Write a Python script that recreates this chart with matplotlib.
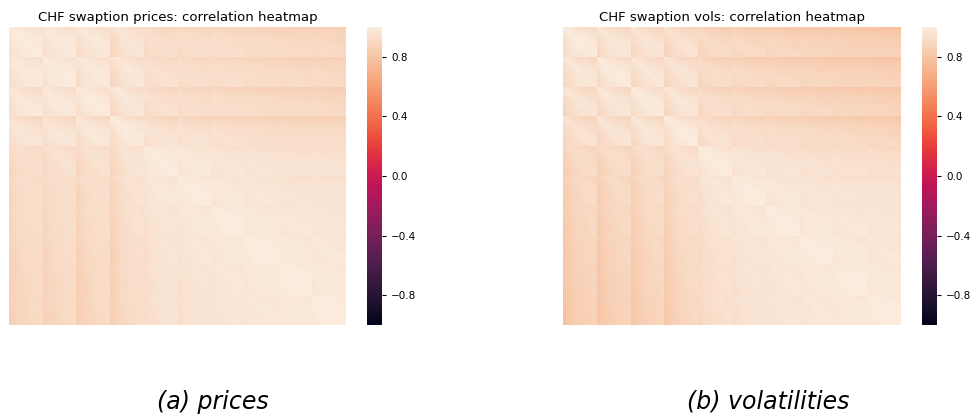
#!/usr/bin/env python3

import numpy as np
import matplotlib
matplotlib.use("Agg")
import matplotlib.pyplot as plt
import seaborn as sns

# swaption grid: 10 expiries x 10 tenors, ordered expiry-major
expiries = ["1M", "3M", "6M", "1Y", "2Y", "3Y", "5Y", "7Y", "10Y", "15Y"]
tenors = [1, 2, 3, 4, 5, 6, 7, 8, 9, 10]

# expiry-block correlation levels (upper triangle, row i starts at column i)
price_blocks = [
    [1.0, 0.99, 0.985, 0.975, 0.945, 0.94, 0.935, 0.925, 0.915, 0.91],
    [1.0, 0.99, 0.98, 0.955, 0.945, 0.94, 0.93, 0.92, 0.915],
    [1.0, 0.985, 0.955, 0.945, 0.94, 0.93, 0.92, 0.915],
    [1.0, 0.97, 0.96, 0.955, 0.945, 0.94, 0.935],
    [1.0, 0.985, 0.975, 0.97, 0.965, 0.96],
    [1.0, 0.985, 0.98, 0.97, 0.965],
    [1.0, 0.985, 0.98, 0.975],
    [1.0, 0.985, 0.98],
    [1.0, 0.985],
    [1.0],
]
vol_blocks = [
    [1.0, 0.98, 0.97, 0.96, 0.925, 0.915, 0.905, 0.895, 0.885, 0.875],
    [1.0, 0.98, 0.97, 0.935, 0.92, 0.91, 0.9, 0.89, 0.88],
    [1.0, 0.98, 0.945, 0.93, 0.92, 0.91, 0.9, 0.89],
    [1.0, 0.96, 0.945, 0.935, 0.925, 0.915, 0.905],
    [1.0, 0.98, 0.97, 0.96, 0.955, 0.95],
    [1.0, 0.985, 0.975, 0.97, 0.965],
    [1.0, 0.985, 0.98, 0.975],
    [1.0, 0.985, 0.98],
    [1.0, 0.985],
    [1.0],
]

# how far the short tenors of each expiry drift from the rest
price_spread = [0.06, 0.06, 0.07, 0.09, 0.04, 0.03, 0.02, 0.015, 0.012, 0.012]
vol_spread = [0.09, 0.09, 0.09, 0.09, 0.055, 0.035, 0.025, 0.02, 0.015, 0.015]

# relative decorrelation of each tenor inside an expiry block
tenor_profile = [1.0, 0.75, 0.58, 0.45, 0.35, 0.27, 0.2, 0.13, 0.07, 0.0]


def full_matrix(upper):
    n = len(upper)
    out = np.ones((n, n))
    for i, row in enumerate(upper):
        for off, v in enumerate(row):
            out[i, i + off] = v
            out[i + off, i] = v
    return out


def build_corr(blocks, spread):
    m = len(tenors)
    base = np.kron(full_matrix(blocks), np.ones((m, m)))
    s = np.outer(spread, tenor_profile).ravel()
    return base - np.abs(s[:, None] - s[None, :])


def draw(fig, rect, cbar_rect, corr, title, caption, cap_x):
    ax = fig.add_axes(rect)
    cax = fig.add_axes(cbar_rect)
    sns.heatmap(corr, vmin=-1, vmax=1, ax=ax, cbar_ax=cax,
                xticklabels=False, yticklabels=False)
    ax.set_title(title, fontsize=9.5, pad=4)
    cax.set_yticks([0.8, 0.4, 0.0, -0.4, -0.8])
    cax.tick_params(labelsize=7.5, length=3, width=0.8)
    fig.text(cap_x, 0.036, caption, fontsize=17, style="italic",
             ha="center", va="center")


fig = plt.figure(figsize=(9.73, 4.17), dpi=100)
draw(fig, [0.0093, 0.2206, 0.3464, 0.7146], [0.3772, 0.2206, 0.0154, 0.7146],
     build_corr(price_blocks, price_spread),
     "CHF swaption prices: correlation heatmap", "(a) prices", 0.219)
draw(fig, [0.5786, 0.2206, 0.3474, 0.7146], [0.9476, 0.2206, 0.0154, 0.7146],
     build_corr(vol_blocks, vol_spread),
     "CHF swaption vols: correlation heatmap", "(b) volatilities", 0.789)
fig.savefig("out.png", dpi=100)
